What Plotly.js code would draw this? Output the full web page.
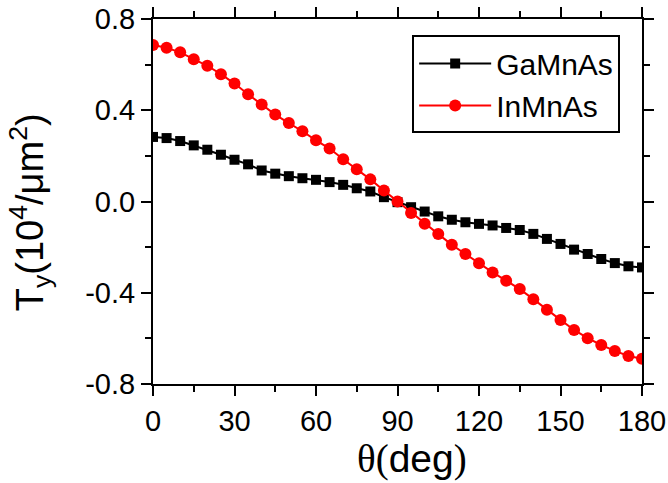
<!DOCTYPE html>
<html>
<head>
<meta charset="utf-8">
<script src="https://cdn.plot.ly/plotly-3.0.1.min.js"></script>
<style>html,body{margin:0;padding:0;background:#fff;}#chart{width:668px;height:483px;}</style>
</head>
<body>
<div id="chart"></div>
<script>
const theta = [0,5,10,15,20,25,30,35,40,45,50,55,60,65,70,75,80,85,90,95,100,105,110,115,120,125,130,135,140,145,150,155,160,165,170,175,180];
const gaMnAs = [0.283,0.278,0.265,0.246,0.227,0.205,0.183,0.163,0.136,0.122,0.111,0.102,0.095,0.085,0.073,0.058,0.044,0.019,-0.003,-0.025,-0.044,-0.065,-0.080,-0.091,-0.098,-0.105,-0.116,-0.125,-0.142,-0.164,-0.186,-0.211,-0.230,-0.252,-0.270,-0.284,-0.289];
const inMnAs = [0.686,0.674,0.654,0.624,0.595,0.558,0.517,0.470,0.425,0.381,0.344,0.308,0.268,0.232,0.185,0.141,0.097,0.048,0.000,-0.050,-0.098,-0.142,-0.190,-0.230,-0.271,-0.311,-0.347,-0.384,-0.428,-0.475,-0.519,-0.563,-0.599,-0.629,-0.655,-0.677,-0.689];
const xTicks = [0,30,60,90,120,150,180];
const yTicks = [-0.8,-0.4,0.0,0.4,0.8];
const yTickText = ['-0.8','-0.4','0.0','0.4','0.8'];
const xTitle = '<span style="font-family:\'Liberation Serif\', serif">θ(</span>deg<span style="font-family:\'Liberation Serif\', serif">)</span>';
const yTitle = 'T<sub>y</sub>(10<sup>4</sup>/μm<sup>2</sup>)';

const FONT = 'Arial, "Liberation Sans", sans-serif';

const traces = [
  {x: theta, y: gaMnAs, name: 'GaMnAs', mode: 'lines+markers',
   line: {color: '#000000', width: 2},
   marker: {symbol: 'square', size: 10, color: '#000000'}},
  {x: theta, y: inMnAs, name: 'InMnAs', mode: 'lines+markers',
   line: {color: '#ff0000', width: 2},
   marker: {symbol: 'circle', size: 12, color: '#ff0000'}}
];

const axisCommon = {
  showgrid: false, zeroline: false, showline: true, linecolor: '#000', linewidth: 2,
  mirror: 'allticks', ticks: 'outside', ticklen: 10, tickwidth: 2, tickcolor: '#000',
  tickfont: {family: FONT, size: 29, color: '#000'},
  minor: {ticks: 'outside', ticklen: 6, tickwidth: 2, tickcolor: '#000'}
};

const layout = {
  width: 668, height: 483,
  margin: {l: 153, r: 26, t: 19, b: 99},
  paper_bgcolor: '#fff', plot_bgcolor: '#fff',
  font: {family: FONT, color: '#000'},
  showlegend: true,
  legend: {x: 0.53, y: 0.955, xanchor: 'left', yanchor: 'top',
    bordercolor: '#000', borderwidth: 2, bgcolor: '#fff', itemwidth: 72,
    font: {family: FONT, size: 30, color: '#000'}},
  xaxis: Object.assign({}, axisCommon, {
    range: [0, 180], tickvals: xTicks, ticktext: xTicks.map(String),
    minor: Object.assign({}, axisCommon.minor, {dtick: 15, tick0: 0})
  }),
  yaxis: Object.assign({}, axisCommon, {
    range: [-0.8, 0.8], tickvals: yTicks, ticktext: yTickText,
    minor: Object.assign({}, axisCommon.minor, {dtick: 0.2, tick0: 0})
  }),
  annotations: [
    {text: xTitle, xref: 'paper', yref: 'paper', x: 0.53, y: -0.205,
     xanchor: 'center', yanchor: 'middle', showarrow: false,
     font: {family: FONT, size: 39, color: '#000'}},
    {text: yTitle, xref: 'paper', yref: 'paper', x: -0.25, y: 0.47,
     xanchor: 'center', yanchor: 'middle', showarrow: false, textangle: -90,
     font: {family: FONT, size: 38, color: '#000'}}
  ]
};

Plotly.newPlot('chart', traces, layout, {displayModeBar: false, staticPlot: true});
</script>
</body>
</html>
